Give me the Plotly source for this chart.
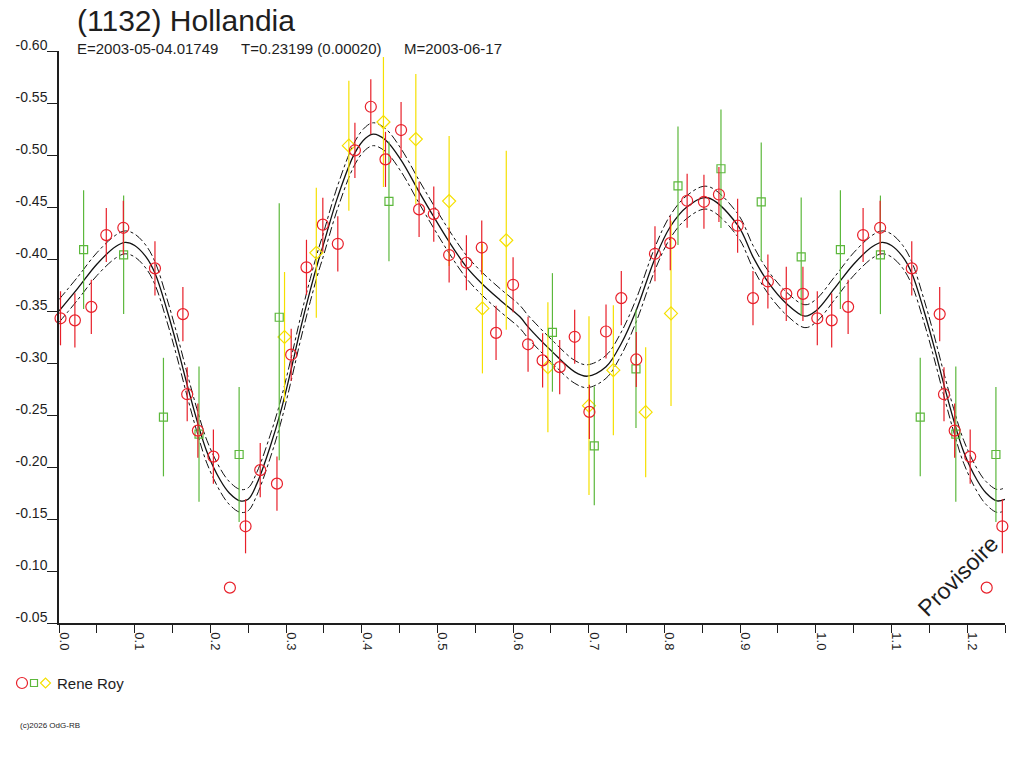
import plotly.graph_objects as go

# ---------------- data ----------------
# Fitted light curve (solid line), phase 0..1
curve_phase = [0.000, 0.025, 0.050, 0.075, 0.0876, 0.100, 0.115, 0.127, 0.1426, 0.1558,
               0.169, 0.1822, 0.1955, 0.213, 0.225, 0.2394, 0.250, 0.2615, 0.279, 0.2923,
               0.3055, 0.3187, 0.332, 0.343, 0.3486, 0.3684, 0.391, 0.405, 0.4155, 0.4314,
               0.452, 0.4758, 0.4952, 0.5155, 0.5383, 0.5586, 0.583, 0.609, 0.6198, 0.652,
               0.6814, 0.698, 0.7228, 0.743, 0.7628, 0.7875, 0.8077, 0.830, 0.8566, 0.8967,
               0.917, 0.9367, 0.961, 0.9856, 1.000]
curve_mag = [-0.350, -0.372, -0.395, -0.412, -0.416, -0.413, -0.402, -0.386, -0.351, -0.317,
             -0.280, -0.245, -0.2145, -0.1875, -0.175, -0.1674, -0.169, -0.184, -0.2195, -0.2515,
             -0.290, -0.3316, -0.370, -0.399, -0.412, -0.460, -0.502, -0.516, -0.520, -0.5144,
             -0.495, -0.4646, -0.4406, -0.4166, -0.3925, -0.3765, -0.3604, -0.3444, -0.3348, -0.3107,
             -0.2915, -0.2873, -0.2963, -0.3188, -0.3508, -0.4005, -0.431, -0.4502, -0.4589, -0.4326,
             -0.4021, -0.378, -0.3573, -0.345, -0.350]
envelope_half_width = 0.011

# Rene Roy - session 1 (red circles)
red_phase = [0.002, 0.021, 0.0427, 0.0625, 0.085, 0.1268, 0.1637, 0.1694, 0.1835, 0.204,
             0.2258, 0.2465, 0.2659, 0.288, 0.3068, 0.327, 0.3486, 0.3684, 0.391, 0.412,
             0.4314, 0.452, 0.4758, 0.4952, 0.5155, 0.5383, 0.5586, 0.5775, 0.600, 0.6198,
             0.639, 0.6616, 0.6814, 0.7008, 0.7228, 0.743, 0.7628, 0.7875, 0.8077, 0.830,
             0.8522, 0.872, 0.8967, 0.917, 0.9367, 0.961, 0.983]
red_mag = [-0.343, -0.341, -0.354, -0.423, -0.430, -0.391, -0.347, -0.270, -0.235, -0.210,
           -0.084, -0.143, -0.197, -0.184, -0.308, -0.392, -0.433, -0.4146, -0.5045, -0.5464,
           -0.4958, -0.524, -0.4477, -0.4432, -0.4038, -0.3964, -0.411, -0.329, -0.3752, -0.318,
           -0.3025, -0.296, -0.3252, -0.253, -0.3303, -0.3624, -0.3034, -0.405, -0.4153, -0.456,
           -0.455, -0.462, -0.432, -0.3624, -0.3784, -0.3665, -0.3665]
red_err = [0.026, 0.026, 0.026, 0.026, 0.026, 0.026, 0.026, 0.026, 0.026, 0.026,
           0.0, 0.026, 0.026, 0.026, 0.025, 0.0265, 0.026, 0.0265, 0.0265, 0.0265,
           0.0265, 0.027, 0.0265, 0.0265, 0.0265, 0.0265, 0.026, 0.026, 0.0265, 0.0265,
           0.026, 0.026, 0.026, 0.026, 0.026, 0.026, 0.0265, 0.0265, 0.026, 0.026,
           0.026, 0.0265, 0.026, 0.026, 0.026, 0.026, 0.026]

# Rene Roy - session 2 (green squares)
green_phase = [0.0325, 0.0854, 0.138, 0.185, 0.238, 0.291, 0.436, 0.652, 0.7073, 0.7624,
               0.8179, 0.8747, 0.9279, 0.9807]
green_mag = [-0.409, -0.404, -0.248, -0.2316, -0.212, -0.344, -0.4554, -0.3294, -0.2203, -0.2944,
             -0.4704, -0.4868, -0.455, -0.4021]
green_err_plus = [0.057, 0.057, 0.057, 0.065, 0.065, 0.1376, 0.0575, 0.057, 0.057, 0.057,
                  0.057, 0.057, 0.057, 0.057]
green_err_minus = [0.057, 0.057, 0.057, 0.065, 0.065, 0.1097, 0.0575, 0.057, 0.057, 0.057,
                   0.057, 0.057, 0.057, 0.057]

# Rene Roy - session 3 (yellow diamonds)
yellow_phase = [0.298, 0.340, 0.383, 0.4287, 0.4715, 0.5155, 0.5595, 0.591, 0.646, 0.7003,
                0.7325, 0.7752, 0.8087]
yellow_mag = [-0.325, -0.406, -0.509, -0.5317, -0.5153, -0.4557, -0.3525, -0.418, -0.296, -0.259,
              -0.2931, -0.2527, -0.3477]
yellow_err = [0.0625, 0.0625, 0.0625, 0.0625, 0.0625, 0.0625, 0.0625, 0.086, 0.0625, 0.086,
              0.0625, 0.0625, 0.089]

x_ticks = [0.0, 0.1, 0.2, 0.3, 0.4, 0.5, 0.6, 0.7, 0.8, 0.9, 1.0, 1.1, 1.2]
y_ticks = [-0.60, -0.55, -0.50, -0.45, -0.40, -0.35, -0.30, -0.25, -0.20, -0.15, -0.10, -0.05]

title_text = "(1132) Hollandia"
sub_e = "E=2003-05-04.01749"
sub_t = "T=0.23199 (0.00020)"
sub_m = "M=2003-06-17"
observer = "Rene Roy"
copyright_text = "(c)2026 OdG-RB"
watermark = "Provisoire"

PHASE_MAX = 1.25
EXTRA = PHASE_MAX - 1.0


def fold(ph, *cols):
    """Repeat points with phase < EXTRA at phase+1 (phase plot over 0..1.25)."""
    out_ph = list(ph)
    outs = [list(c) for c in cols]
    for i, p in enumerate(ph):
        if p < EXTRA:
            out_ph.append(p + 1.0)
            for o, c in zip(outs, cols):
                o.append(c[i])
    return [out_ph] + outs


# curve extended to 1.25
cx = list(curve_phase)
cy = list(curve_mag)
for p, m in zip(curve_phase, curve_mag):
    if 0 < p <= EXTRA + 1e-9:
        cx.append(p + 1.0)
        cy.append(m)
cy_up = [m - envelope_half_width for m in cy]
cy_lo = [m + envelope_half_width for m in cy]

RED = "#e8202a"
GREEN = "#5cb83c"
YELLOW = "#f5e000"
INK = "#1e1e1e"
FONT = "Liberation Sans, Arial, sans-serif"

fig = go.Figure()

for ys, dash, w in [(cy_up, "dashdot", 1.0), (cy_lo, "dashdot", 1.0), (cy, "solid", 1.3)]:
    fig.add_trace(go.Scatter(x=cx, y=ys, mode="lines",
                             line=dict(color="#111111", width=w, dash=dash, shape="spline", smoothing=1.0),
                             hoverinfo="skip", showlegend=False))

rx, ry, re = fold(red_phase, red_mag, red_err)
gx, gy, gp, gm = fold(green_phase, green_mag, green_err_plus, green_err_minus)
yx, yy, ye = fold(yellow_phase, yellow_mag, yellow_err)

fig.add_trace(go.Scatter(x=yx, y=yy, mode="markers", cliponaxis=False, showlegend=False,
                         marker=dict(symbol="diamond-open", size=10, color=YELLOW, line=dict(width=1.2, color=YELLOW)),
                         error_y=dict(type="data", array=ye, visible=True, color=YELLOW, thickness=1.2, width=0)))
fig.add_trace(go.Scatter(x=gx, y=gy, mode="markers", cliponaxis=False, showlegend=False,
                         marker=dict(symbol="square-open", size=8, color=GREEN, line=dict(width=1.2, color=GREEN)),
                         error_y=dict(type="data", array=gp, arrayminus=gm, symmetric=False, visible=True,
                                      color=GREEN, thickness=1.2, width=0)))
fig.add_trace(go.Scatter(x=rx, y=ry, mode="markers", cliponaxis=False, showlegend=False,
                         marker=dict(symbol="circle-open", size=11, color=RED, line=dict(width=1.2, color=RED)),
                         error_y=dict(type="data", array=re, visible=True, color=RED, thickness=1.2, width=0)))

# ------------- layout -------------
W, H = 1024, 768
ML, MR, MT, MB = 59, 19, 51, 145
PW, PH = W - ML - MR, H - MT - MB


def px(xp):
    return (xp - ML) / PW


def py(yp):
    return (H - MB - yp) / PH


annotations = [
    dict(text=title_text, x=px(76), y=py(21), font=dict(size=30, color=INK, family=FONT)),
    dict(text=sub_e, x=px(76), y=py(48.5), font=dict(size=15, color=INK, family=FONT)),
    dict(text=sub_t, x=px(240), y=py(48.5), font=dict(size=15, color=INK, family=FONT)),
    dict(text=sub_m, x=px(403), y=py(48.5), font=dict(size=15, color=INK, family=FONT)),
    dict(text=observer, x=px(56), y=py(683), font=dict(size=15, color=INK, family=FONT)),
    dict(text=copyright_text, x=px(19), y=py(725), font=dict(size=8, color=INK, family=FONT)),
]
for a in annotations:
    a.update(xref="paper", yref="paper", xanchor="left", yanchor="middle", showarrow=False, borderpad=0)
annotations.append(dict(text=watermark, x=px(958), y=py(576), xref="paper", yref="paper",
                        xanchor="center", yanchor="middle", showarrow=False, textangle=-45,
                        font=dict(size=23, color=INK, family=FONT)))

shapes = [
    dict(type="circle", xref="paper", yref="paper", x0=px(16.5), x1=px(27.5), y0=py(688.5), y1=py(677.5),
         line=dict(color=RED, width=1.2)),
    dict(type="rect", xref="paper", yref="paper", x0=px(30.5), x1=px(37.5), y0=py(686.5), y1=py(679.5),
         line=dict(color=GREEN, width=1.2)),
    dict(type="path", xref="paper", yref="paper",
         path=f"M {px(40.5)},{py(683)} L {px(45.5)},{py(678)} L {px(50.5)},{py(683)} L {px(45.5)},{py(688)} Z",
         line=dict(color=YELLOW, width=1.2)),
]

fig.update_layout(
    width=W, height=H,
    margin=dict(l=ML, r=MR, t=MT, b=MB, autoexpand=False),
    paper_bgcolor="white", plot_bgcolor="white",
    showlegend=False,
    hovermode=False,
    annotations=annotations,
    shapes=shapes,
    font=dict(family=FONT, color=INK),
)
fig.update_xaxes(range=[0, PHASE_MAX], tickvals=x_ticks, ticktext=[f"{v:.1f}" for v in x_ticks],
                 showgrid=False, zeroline=False, showline=True, linecolor=INK, linewidth=1.5,
                 ticks="outside", ticklen=8, tickwidth=1.3, tickcolor=INK, tickangle=90,
                 tickfont=dict(size=13, color=INK, family=FONT), ticklabelstandoff=-3, ticklabelshift=5,
                 minor=dict(dtick=0.05, tick0=0, ticks="outside", ticklen=8, tickwidth=1.3, tickcolor=INK))
fig.update_yaxes(range=[-0.05, -0.60], tickvals=y_ticks, ticktext=[f"{v:.2f}" for v in y_ticks],
                 showgrid=False, zeroline=False, showline=True, linecolor=INK, linewidth=1.5,
                 ticks="outside", ticklen=10, tickwidth=1.3, tickcolor=INK,
                 tickfont=dict(size=14, color=INK, family=FONT), ticklabelstandoff=-3, ticklabelshift=6)

# remove the default 8 px page margin so the figure sits at the window's top-left corner
fig.write_html("out.html", config={"displayModeBar": False},
               post_script="document.body.style.margin='0px';")
